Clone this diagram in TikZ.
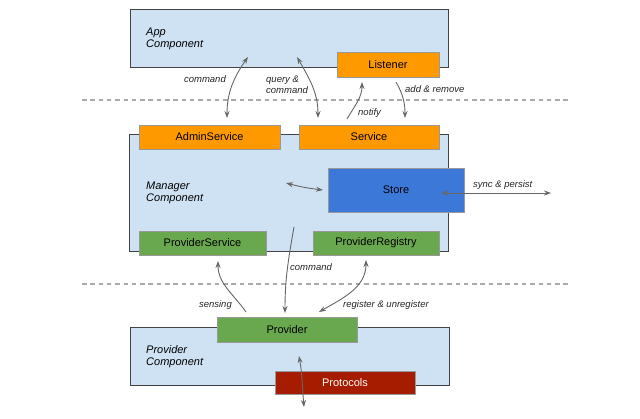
\documentclass[tikz,border=0pt]{standalone}
\usepackage{fontspec}
\setmainfont{Liberation Sans}
\usetikzlibrary{arrows.meta}
\definecolor{compfill}{HTML}{CFE2F3}
\definecolor{compline}{HTML}{434343}
\definecolor{orangefill}{HTML}{FF9900}
\definecolor{greenfill}{HTML}{6AA84F}
\definecolor{bluefill}{HTML}{3C78D8}
\definecolor{redfill}{HTML}{A61C00}
\definecolor{boxline}{HTML}{999999}
\definecolor{arrowc}{HTML}{666666}
\definecolor{dashc}{HTML}{AAAAAA}
\tikzset{
  comp/.style={draw=compline, fill=compfill, line width=0.8pt, inner sep=0pt},
  part/.style={draw=boxline, line width=0.8pt, inner sep=0pt, font=\fontsize{11}{13}\selectfont},
  orangebox/.style={part, fill=orangefill},
  greenbox/.style={part, fill=greenfill},
  bluebox/.style={part, fill=bluefill},
  redbox/.style={part, fill=redfill, text=white},
  complabel/.style={anchor=west, align=left, inner sep=0pt, font=\fontsize{11}{12.5}\selectfont\itshape},
  lbl/.style={inner sep=0pt, font=\fontsize{9.5}{11}\selectfont\itshape, text=black!85},
  conn/.style={draw=arrowc, line width=0.9pt},
  fhead/.style={-{Stealth[length=7pt,width=5pt]}},
  sep/.style={draw=dashc, line width=1.3pt, dash pattern=on 4.5pt off 3.8pt},
}
\begin{document}
\begin{tikzpicture}[x=1pt,y=-1pt]
\useasboundingbox (0,0) rectangle (640,418);
\fill[white] (0,0) rectangle (640,418);

% separators
\coordinate (s1a) at (82,100);
\coordinate (s1b) at (568,100);
\coordinate (s2a) at (82,284);
\coordinate (s2b) at (568,284);
\draw[sep] (s1a) -- (s1b);
\draw[sep] (s2a) -- (s2b);

% App component
\node[comp, minimum width=318pt, minimum height=58pt] (app) at (289,38) {};
\node[complabel] (applbl) at (146,39) {App\\Component};
\node[orangebox, minimum width=102pt, minimum height=25pt] (listener) at (388,64.5) {Listener};

% Manager component
\node[comp, minimum width=319pt, minimum height=117pt] (manager) at (288.5,192.5) {};
\node[complabel] (mgrlbl) at (146,193) {Manager\\Component};
\node[orangebox, minimum width=141pt, minimum height=24pt] (admin) at (209.5,137) {AdminService};
\node[orangebox, minimum width=140pt, minimum height=24pt] (service) at (369,137) {Service};
\node[bluebox, minimum width=136pt, minimum height=44pt] (store) at (396,190) {Store};
\node[greenbox, minimum width=127pt, minimum height=24pt] (provsvc) at (202.5,243) {ProviderService};
\node[greenbox, minimum width=126pt, minimum height=24pt] (provreg) at (376,243) {ProviderRegistry};

% Provider component
\node[comp, minimum width=319pt, minimum height=58pt] (provcomp) at (289.5,356) {};
\node[complabel] (provlbl) at (146,356.5) {Provider\\Component};
\node[greenbox, minimum width=140pt, minimum height=25pt] (provider) at (287,329.5) {Provider};
\node[redbox, minimum width=140pt, minimum height=23pt] (protocols) at (345,382.5) {Protocols};

% coordinates for connector ends
\coordinate (cmdA) at (227,118);
\coordinate (cmdB) at (248,57);
\coordinate (qcA) at (318,118);
\coordinate (qcB) at (297,57);
\coordinate (ntA) at (347,119);
\coordinate (ntB) at (362,82);
\coordinate (arA) at (396,82);
\coordinate (arB) at (405,118);
\coordinate (mgA) at (286,183);
\coordinate (mgB) at (323,190);
\coordinate (spA) at (441,193);
\coordinate (spB) at (551,193);
\coordinate (lcA) at (294,227);
\coordinate (lcB) at (285,313);
\coordinate (snA) at (246,312);
\coordinate (snB) at (218,261);
\coordinate (rgA) at (319,312);
\coordinate (rgB) at (366,260);
\coordinate (prA) at (299,356);
\coordinate (prB) at (304,407);

% connectors
\draw[conn, {Stealth[open,length=7pt,width=5pt]}-{Stealth[length=7pt,width=5pt]}] (cmdB) to[out=235,in=90] (cmdA);
\draw[conn, {Stealth[open,length=7pt,width=5pt]}-{Stealth[length=7pt,width=5pt]}] (qcB) to[out=-60,in=90] (qcA);
\draw[conn, fhead] (ntA) to[out=60,in=-90] (ntB);
\draw[conn, fhead] (arA) to[out=-60,in=90] (arB);
\draw[conn, {Stealth[open,length=7pt,width=5pt]}-{Stealth[length=7pt,width=5pt]}] (mgA) to[bend left=-4] (mgB);
\draw[conn, {Stealth[length=7pt,width=5pt]}-{Stealth[length=7pt,width=5pt]}] (spA) -- (spB);
\draw[conn, fhead] (lcA) to[out=-100,in=90] (lcB);
\draw[conn, fhead] (snA) to[out=125,in=-90] (snB);
\draw[conn, {Stealth[open,length=7pt,width=5pt]}-{Stealth[length=7pt,width=5pt]}] (rgA) to[out=30,in=-90] (rgB);
\draw[conn, {Stealth[open,length=7pt,width=5pt]}-{Stealth[length=7pt,width=5pt]}] (prA) to[out=-80,in=95] (prB);

% labels
\node[lbl, anchor=east] (l1) at (226,79) {command};
\node[lbl, anchor=west, align=left] (l2) at (266,84.5) {query \&\\command};
\node[lbl, anchor=west] (l3) at (358,113) {notify};
\node[lbl, anchor=west] (l4) at (405,89) {add \& remove};
\node[lbl, anchor=west] (l5) at (473,185) {sync \& persist};
\node[lbl, anchor=west] (l6) at (290,267) {command};
\node[lbl, anchor=east] (l7) at (232,305) {sensing};
\node[lbl, anchor=west] (l8) at (343,305) {register \& unregister};
\end{tikzpicture}
\end{document}
